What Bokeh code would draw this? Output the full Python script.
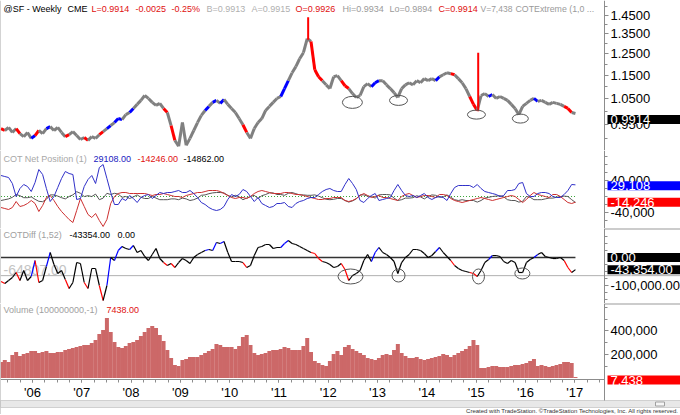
import numpy as np
import pandas as pd
from bokeh.plotting import figure
from bokeh.layouts import column
from bokeh.models import Range1d, FixedTicker, NumeralTickFormatter, Label, Span
from bokeh.embed import file_html
from bokeh.resources import INLINE

# ---------------- data (4-weekly samples) ----------------
dates = pd.date_range("2005-05-13", periods=153, freq="28D")

price = [0.935, 0.928, 0.939, 0.921, 0.935, 0.917, 0.906, 0.921, 0.900, 0.910,
         0.928, 0.917, 0.935, 0.942, 0.928, 0.939, 0.921, 0.906, 0.913, 0.924,
         0.910, 0.896, 0.903, 0.893, 0.906, 0.900, 0.913, 0.924, 0.935, 0.946,
         0.957, 0.972, 0.968, 0.987, 0.995, 1.011, 1.027, 1.043, 1.063, 1.051,
         1.035, 1.023, 1.031, 1.011, 0.995, 0.946, 0.893, 0.873, 0.957, 0.876,
         0.900, 0.928, 0.957, 0.984, 1.003, 1.019, 1.035, 1.043, 1.031, 1.047,
         1.027, 1.011, 0.995, 0.972, 0.949, 0.921, 0.900, 0.935, 0.957, 0.972,
         1.003, 1.019, 1.035, 1.051, 1.059, 1.092, 1.126, 1.161, 1.189, 1.226,
         1.255, 1.326, 1.311, 1.175, 1.143, 1.126, 1.108, 1.092, 1.143, 1.148,
         1.126, 1.104, 1.092, 1.071, 1.055, 1.063, 1.100, 1.113, 1.100, 1.117,
         1.126, 1.126, 1.108, 1.092, 1.075, 1.055, 1.092, 1.108, 1.117, 1.108,
         1.126, 1.117, 1.135, 1.126, 1.135, 1.126, 1.143, 1.152, 1.161, 1.157,
         1.152, 1.135, 1.117, 1.092, 1.059, 1.027, 1.003, 1.063, 1.071, 1.059,
         1.067, 1.051, 1.059, 1.051, 1.043, 1.027, 1.011, 0.987, 1.019, 1.031,
         1.043, 1.051, 1.039, 1.043, 1.035, 1.027, 1.035, 1.031, 1.027, 1.019,
         1.011, 0.995, 0.9914]

spike_dates = ["2011-08-05", "2015-01-16"]
spike_low = [1.32, 1.00]
spike_high = [1.44, 1.255]

cot_blue = [52500, 50000, 47500, 32500, 0, 20000, 30000, 25000, 12500, 35000,
            67500, 55000, 20000, -12500, 0, 22500, 45000, 62500, 57500, 55000,
            -7500, -5000, 25000, 42500, 52500, 32500, 72500, 80000, 45000, 10000,
            -20000, -20000, -5000, -10000, 2500, -5000, -15000, -2500, 2500, 5000,
            -5000, 2500, 10000, 7500, 10000, 10000, 12500, 15000, 10000, 10000,
            15000, 7500, -2500, -15000, -20000, -27500, -32500, -35000, -32500, -25000,
            -7500, 5000, 0, 5000, 17500, 12500, 0, -12500, -2500, -17500,
            -22500, -27500, -25000, -17500, -17500, -15000, -25000, -27500, -17500, -12500,
            -10000, -5000, -2500, -2500, 5000, 12500, 17500, 20000, 15000, 12500,
            12500, 30000, 45000, 32500, 17500, -10000, -15000, -5000, 2500, 7500,
            -10000, -7500, -5000, -2500, 15000, 30000, 15000, 2500, 0, 2500,
            -2500, 2500, 7500, -2500, -7500, -2500, 0, -2500, -10000, 7500,
            22500, 27500, 27500, 27500, 27500, 22500, 30000, 20000, 12500, 10000,
            7500, 5000, 0, 2500, 15000, 15000, 17500, 32500, 35000, 7500,
            0, 0, 7500, 10000, 10000, 7500, 0, -2500, -2500, 5000,
            15000, 30000, 29108]

cot_red = [-27500, -30000, -32500, -27500, -12500, -25000, -22500, -17500, -10000, -17500,
           -37500, -22500, -2500, 2500, -10000, -25000, -37500, -47500, -57500, -65000,
           -35000, -5000, -25000, -45000, -52500, -42500, -60000, -75000, -57500, -17500,
           0, 7500, 10000, 10000, 7500, 7500, 7500, 7500, 7500, 5000,
           2500, 5000, 5000, 7500, 5000, 2500, 0, 0, -2500, 2500,
           5000, 7500, 10000, 10000, 12500, 15000, 15000, 15000, 12500, 7500,
           2500, -2500, -5000, -2500, -2500, -5000, 0, 7500, 12500, 15000,
           12500, 10000, 7500, 7500, 7500, 10000, 10000, 7500, 5000, 5000,
           2500, 0, -2500, -5000, -7500, -7500, -5000, -5000, -2500, -2500,
           -2500, -10000, -12500, -10000, -5000, 2500, 7500, 2500, -2500, 0,
           2500, -2500, -2500, -5000, -7500, -10000, 0, 5000, 7500, 2500,
           -2500, 0, 2500, 2500, 0, -2500, 5000, 5000, 2500, -5000,
           -10000, -12500, -15000, -12500, -10000, -7500, -5000, -2500, -5000, -7500,
           -10000, -7500, -5000, -2500, 0, 2500, 0, -7500, -15000, -7500,
           2500, 10000, 5000, 2500, 0, -2500, 5000, 5000, 0, -7500,
           -15000, -17500, -14246]

cot_gray = [-10000, -8000, -6000, -2000, 5000, 2000, -3000, -3000, -1000, -7000,
            -12000, -13000, -7000, 4000, 4000, 1000, -3000, -6000, 0, 4000,
            12000, 8000, 0, 2000, 0, 6000, -8000, -4000, 8000, 5000,
            8000, 6000, -2000, 0, -5000, -1000, 4000, -2000, -5000, -5000,
            1000, -4000, -8000, -8000, -8000, -6000, -6000, -8000, -4000, -6000,
            -10000, -8000, -4000, 3000, 4000, 7000, 9000, 10000, 10000, 9000,
            3000, -1000, 3000, -1000, -8000, -4000, 0, 3000, -5000, 2000,
            5000, 9000, 9000, 5000, 5000, 3000, 8000, 10000, 7000, 4000,
            4000, 3000, 3000, 4000, 1000, -3000, -7000, -8000, -7000, -5000,
            -5000, -10000, -14000, -11000, -6000, 4000, 4000, 1000, 0, -4000,
            4000, 5000, 5000, 4000, -4000, -10000, -8000, -4000, -4000, -3000,
            2000, -1000, -6000, 0, 4000, 3000, -2000, -1000, 4000, -2000,
            -8000, -10000, -8000, -10000, -10000, -10000, -14000, -10000, -4000, -2000,
            0, 1000, 2000, -1000, -8000, -10000, -10000, -14000, -12000, 0,
            -2000, -8000, -8000, -8000, -6000, -4000, -4000, -2000, 0, 1000,
            0, -8000, -14862]

cot_diff = [-85700, -92800, -82100, -71400, -53600, -82100, -46400, -82100, -67800, -10700,
            -89300, -82100, -32100, 17900, -25000, -57100, -46400, -78600, -110700, -89300,
            -17900, -21400, -89300, -110700, -39300, -39300, -100000, -153600, -100000, 0,
            -10700, 25000, 39300, 32100, 28600, 42900, 17900, 25000, 3600, -10700,
            10700, 32100, -3600, -17900, -28600, -21400, -35700, -17900, -3600, -10700,
            -21400, 0, 10700, 17900, 25000, 28600, 25000, 53600, 50000, 57100,
            17900, -14300, -14300, -14300, -17900, -35700, -28600, 7100, 35700, 39300,
            46400, 46400, 32100, 35700, 35700, 50000, 60700, 50000, 46400, 39300,
            32100, 25000, 17900, 14300, -3600, -14300, -17900, -25000, -35700, -32100,
            -21400, -42900, -82100, -64300, -57100, -46400, -10700, 10700, -14300, 17900,
            35700, 17900, 10700, 0, -14300, -57100, -17900, 0, 10700, 28600,
            28600, 25000, 14300, 0, 7100, 21400, 35700, 17900, 3600, -10700,
            -28600, -39300, -46400, -50000, -53600, -57100, -67800, -46400, -17900, -7100,
            7100, 7100, 3600, -14300, -21400, -10700, -17900, -53600, -53600, -17900,
            -7100, 0, 10700, 17900, 3600, 0, -3600, -3600, 0, -10700,
            -35700, -53600, -43354]
diff_max_level = 0.0
diff_extreme_level = -64807.0

volume = [136000, 153000, 136000, 196000, 221000, 187000, 204000, 213000, 230000, 230000,
          213000, 221000, 230000, 213000, 213000, 221000, 221000, 238000, 247000, 255000,
          264000, 272000, 281000, 281000, 298000, 323000, 374000, 408000, 511000, 391000,
          306000, 264000, 255000, 272000, 298000, 306000, 323000, 357000, 391000, 426000,
          443000, 426000, 366000, 315000, 238000, 170000, 111000, 102000, 153000, 162000,
          179000, 179000, 179000, 196000, 213000, 230000, 247000, 289000, 281000, 264000,
          264000, 264000, 247000, 272000, 349000, 366000, 281000, 213000, 196000, 204000,
          213000, 230000, 238000, 238000, 247000, 264000, 255000, 238000, 238000, 238000,
          272000, 340000, 221000, 145000, 128000, 111000, 102000, 145000, 204000, 230000,
          196000, 264000, 281000, 247000, 230000, 213000, 196000, 170000, 162000, 153000,
          170000, 196000, 204000, 196000, 238000, 289000, 213000, 187000, 170000, 170000,
          179000, 162000, 153000, 162000, 170000, 179000, 187000, 204000, 196000, 179000,
          196000, 213000, 230000, 247000, 272000, 323000, 281000, 85000, 85000, 94000,
          102000, 102000, 94000, 94000, 94000, 102000, 111000, 111000, 119000, 128000,
          145000, 162000, 102000, 111000, 102000, 94000, 102000, 111000, 119000, 136000,
          136000, 128000, 7438]

red_idx = [0, 1, 5, 10, 18, 23, 27, 44, 46, 65, 83, 84, 85, 91, 92, 120, 125, 126, 150, 151]
blue_idx = [9, 13, 29, 31, 32, 35, 55, 57, 59, 75, 76, 99, 100, 116, 130, 142]

circ_price_dates = ["2012-06-28", "2013-06-05", "2015-01-03", "2015-11-24"]
circ_price_vals = [1.035, 1.043, 0.987, 0.972]
circ_diff_dates = ["2012-06-14", "2013-06-05", "2015-01-18", "2015-12-09"]
circ_diff_vals = [-67800, -64300, -67800, -57100]

year_ticks = list(range(2006, 2018))
year_labels = ["'06", "'07", "'08", "'09", "'10", "'11", "'12", "'13", "'14", "'15", "'16", "'17"]

# ---------------- helpers ----------------
def decyear(d):
    d = pd.Timestamp(d)
    return d.year + (d.dayofyear - 1) / (366.0 if d.is_leap_year else 365.0)

xs = np.array([decyear(d) for d in dates])
sig = np.zeros(len(xs), dtype=int)
sig[red_idx] = -1
sig[blue_idx] = 1

FONT = "Liberation Sans"
W = 680            # full frame width (plot area + price-scale area)
AXPX = 604         # pixel position of the price scale
X0, X1 = 2005.351, 2017.603
XE = X0 + (X1 - X0) * W / AXPX
xr = Range1d(X0, XE)


def make_fig(h, yr, ylog=False, xaxis=False):
    p = figure(frame_width=W, frame_height=h, x_range=xr, y_range=yr,
               y_axis_type="log" if ylog else "linear",
               x_axis_location="below" if xaxis else None,
               y_axis_location="right", toolbar_location=None,
               output_backend="svg", min_border_left=0, min_border_right=0,
               min_border_top=0, min_border_bottom=0)
    p.outline_line_color = None
    p.grid.visible = False
    p.background_fill_color = "white"
    p.border_fill_color = "white"
    ax = p.yaxis[0]
    ax.fixed_location = X1
    ax.axis_line_color = "#8c8c8c"
    ax.major_tick_line_color = "#8c8c8c"
    ax.minor_tick_line_color = "#8c8c8c"
    ax.major_tick_in = 0
    ax.major_tick_out = 4
    ax.minor_tick_in = 0
    ax.minor_tick_out = 3
    ax.major_label_text_font = FONT
    ax.major_label_text_font_size = "13px"
    ax.major_label_text_color = "black"
    ax.major_label_standoff = 2
    p.add_layout(Span(location=X0, dimension="height", line_color="#a8a8a8", line_width=1))
    return p


def colored_line(p, yvals, base_color, width):
    y = np.asarray(yvals, dtype=float)
    cols = [base_color if s == 0 else ("#ff0000" if s < 0 else "#0000ff") for s in sig[1:]]
    p.segment(x0=xs[:-1], y0=y[:-1], x1=xs[1:], y1=y[1:], line_color=cols, line_width=width)


def txt(p, x, y, text, color, size="9px", align="left"):
    p.add_layout(Label(x=x, y=y, x_units="screen", y_units="screen", text=text,
                       text_color=color, text_font=FONT, text_font_size=size,
                       text_baseline="middle", text_align=align))


def badge(p, yv, text, bg, pad_right, yoff=0):
    p.add_layout(Label(x=X1, y=yv, x_offset=3, y_offset=yoff, text=text, text_color="white",
                       text_font=FONT, text_font_size="13px", text_baseline="middle",
                       text_align="left", background_fill_color=bg, background_fill_alpha=1.0,
                       padding=dict(left=3, right=pad_right, top=0, bottom=0)))


def side_rule(p, yv):
    p.segment(x0=[X1], y0=[yv], x1=[XE], y1=[yv], line_color="#9a9a9a", line_width=2)


# ---------------- panel 1: price ----------------
H1, H2, H3, H4 = 150, 78, 75, 111
p1 = make_fig(H1, Range1d(0.8587, 1.537), ylog=True)
p1.yaxis.ticker = FixedTicker(ticks=[0.95, 1.05, 1.15, 1.25, 1.35, 1.45],
                              minor_ticks=[0.9, 1.0, 1.1, 1.2, 1.3, 1.4, 1.5])
p1.yaxis.formatter = NumeralTickFormatter(format="0.0000")
colored_line(p1, price, "#808080", 3)
p1.segment(x0=[decyear(d) for d in spike_dates], y0=spike_low,
           x1=[decyear(d) for d in spike_dates], y1=spike_high, line_color="#ff0000", line_width=2)
p1.ellipse(x=[decyear(d) for d in circ_price_dates], y=circ_price_vals,
           width=[20, 18, 18, 16], height=[12, 10, 9, 9],
           width_units="screen", height_units="screen",
           fill_color=None, line_color="#555555", line_width=1)
hy = H1 - 8
for xx, t, c, s in [(3, "@SF - Weekly", "#000000", "9px"), (67, "CME", "#000000", "9px"),
                    (91, "L=0.9914", "#e01010", "9px"), (135, "-0.0025", "#e01010", "9px"),
                    (171, "-0.25%", "#e01010", "9px"), (206, "B=0.9913", "#b0b0b0", "9px"),
                    (251, "A=0.9915", "#b0b0b0", "9px"), (295, "O=0.9926", "#e01010", "9px"),
                    (342, "Hi=0.9934", "#9a9a9a", "9px"), (389, "Lo=0.9894", "#9a9a9a", "9px"),
                    (438, "C=0.9914", "#e01010", "9px"), (480, "V=7,438", "#9a9a9a", "8.5px"),
                    (515, "COTExtreme (1,0 ...", "#9a9a9a", "8.8px")]:
    txt(p1, xx, hy, t, c, s)
badge(p1, price[-1], "0.9914", "black", 33, yoff=-6)

# ---------------- panel 2: COT net positions ----------------
p2 = make_fig(H2, Range1d(-80000, 115000))
p2.yaxis.ticker = FixedTicker(ticks=[-40000, 40000],
                              minor_ticks=[-80000, -60000, -20000, 0, 20000, 60000, 80000, 100000])
p2.yaxis.formatter = NumeralTickFormatter(format="0,0")
p2.segment(x0=[xs[0]], y0=[0], x1=[xs[-1]], y1=[0], line_color="#3aa63a",
           line_width=1, line_dash="1 2")
p2.line(xs, cot_gray, line_color="#555555", line_width=1)
p2.line(xs, cot_red, line_color="#cc3030", line_width=1)
p2.line(xs, cot_blue, line_color="#3030c8", line_width=1)
ly = H2 - 8
txt(p2, 3, ly, "COT Net Position (1)", "#a8a8a8")
txt(p2, 93, ly, "29108.00", "#2020c0")
txt(p2, 137, ly, "-14246.00", "#e01010")
txt(p2, 183, ly, "-14862.00", "#000000")
badge(p2, cot_blue[-1], "29,108", "#0000ff", 33, yoff=-1)
badge(p2, cot_red[-1], "-14,246", "#ff0000", 29)

# ---------------- panel 3: COTDiff ----------------
p3 = make_fig(H3, Range1d(-164300, 103600))
p3.yaxis.ticker = FixedTicker(ticks=[-100000],
                              minor_ticks=[-150000, -125000, -75000, -50000, -25000, 25000, 50000, 75000])
p3.yaxis.formatter = NumeralTickFormatter(format="0,0.00")
p3.add_layout(Label(x=X0, y=diff_extreme_level, x_offset=3, y_offset=1, text="-64807.00",
                    text_color="#c4c4c4", text_font=FONT, text_font_size="14px",
                    text_baseline="bottom", level="underlay"))
p3.segment(x0=[X0], y0=[diff_extreme_level], x1=[XE], y1=[diff_extreme_level],
           line_color="#b0b0b0", line_width=1)
p3.segment(x0=[xs[0]], y0=[diff_max_level], x1=[xs[-1]], y1=[diff_max_level],
           line_color="#333333", line_width=1.6)
colored_line(p3, cot_diff, "#000000", 1.2)
p3.ellipse(x=[decyear(d) for d in circ_diff_dates], y=circ_diff_vals,
           width=[25, 13, 12, 15], height=[15, 13, 15, 11],
           width_units="screen", height_units="screen",
           fill_color=None, line_color="#555555", line_width=1)
side_rule(p3, 103600)
ly = H3 - 6
txt(p3, 3, ly, "COTDiff (1,52)", "#a0a0a0")
txt(p3, 69, ly, "-43354.00", "#000000")
txt(p3, 117, ly, "0.00", "#000000")
badge(p3, diff_max_level, "0.00", "black", 48)
badge(p3, cot_diff[-1], "-43,354.00", "black", 11)

# ---------------- panel 4: volume + time scale + status strip ----------------
PX_PER_UNIT = 8513.0            # volume units per pixel
VOL_TOP = 634000
VOL_BOTTOM = VOL_TOP - H4 * PX_PER_UNIT
XAXIS_Y = -12800
p4 = make_fig(H4, Range1d(VOL_BOTTOM, VOL_TOP), xaxis=True)
p4.yaxis.ticker = FixedTicker(ticks=[200000, 400000], minor_ticks=[100000, 300000, 500000, 600000])
p4.yaxis.formatter = NumeralTickFormatter(format="0,0")
p4.yaxis.bounds = (VOL_TOP - 97 * PX_PER_UNIT, VOL_TOP)
p4.vbar(x=xs, top=volume, bottom=0, width=1.06 * 28 / 365.25, fill_color="#cc6868", line_color=None)
side_rule(p4, VOL_TOP)
# scroll strip below the time scale (pixel rows 97..104 of this panel)
strip_top = VOL_TOP - 97 * PX_PER_UNIT
strip_bot = VOL_TOP - 104 * PX_PER_UNIT
p4.quad(left=[X0], right=[XE], top=[strip_top], bottom=[strip_bot],
        fill_color="#e8e8e8", line_color="#d0d0d0", line_width=1)
px = (XE - X0) / W
p4.quad(left=[X0 + 655 * px], right=[X0 + 664 * px],
        top=[strip_top - 1.5 * PX_PER_UNIT], bottom=[strip_bot + 1.5 * PX_PER_UNIT],
        fill_color="#f6f6f6", line_color="#a0a0a0", line_width=1)
ly = H4 - 6
txt(p4, 3, ly, "Volume (100000000,-1)", "#a0a0a0")
txt(p4, 106, ly, "7438.00", "#e01010")
txt(p4, 678, 4, "Created with TradeStation. \u00a9TradeStation Technologies, Inc. All rights reserved.",
    "#333333", "6px", align="right")
badge(p4, volume[-1], "7,438", "#ff0000", 40, yoff=-3)
xa = p4.xaxis[0]
xa.fixed_location = XAXIS_Y
xa.bounds = (X0, X1)
xa.ticker = FixedTicker(ticks=year_ticks,
                        minor_ticks=[y + q for y in range(2005, 2018) for q in (0.0, 0.25, 0.5, 0.75)])
xa.major_label_overrides = {t: l for t, l in zip(year_ticks, year_labels)}
xa.axis_line_color = "#8c8c8c"
xa.major_tick_line_color = "#8c8c8c"
xa.minor_tick_line_color = "#8c8c8c"
xa.major_tick_in = 0
xa.major_tick_out = 3
xa.minor_tick_in = 0
xa.minor_tick_out = 3
xa.major_label_text_font = FONT
xa.major_label_text_font_size = "13px"
xa.major_label_text_color = "black"
xa.major_label_standoff = 3

layout = column(p1, p2, p3, p4, spacing=0)
open("out.html", "w").write(file_html(layout, INLINE))
